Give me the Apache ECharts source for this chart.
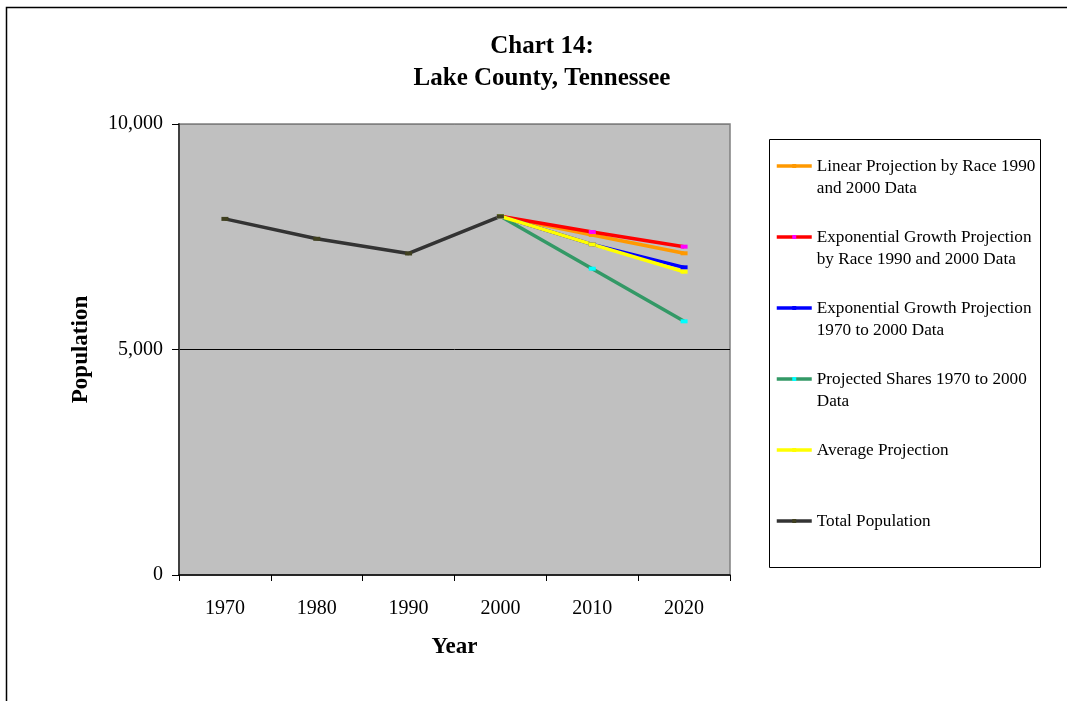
<!DOCTYPE html>
<html>
<head>
<meta charset="utf-8">
<script src="https://cdn.jsdelivr.net/npm/echarts@6/dist/echarts.min.js"></script>
<style>
  html, body { margin: 0; padding: 0; background: #fff; }
  #chart { width: 1067px; height: 701px; }
</style>
</head>
<body>
<div id="chart"></div>
<script>
// categories and values
const years = ['1970', '1980', '1990', '2000', '2010', '2020']
const totalPopulation = [7896, 7455, 7129, 7954, null, null]
const linearByRace = [null, null, null, 7954, 7540, 7133]
const expByRace = [null, null, null, 7954, 7605, 7280]
const exp1970to2000 = [null, null, null, 7954, 7332, 6822]
const projectedShares = [null, null, null, 7954, 6792, 5625]
const averageProjection = [null, null, null, 7954, 7330, 6725]
const yTicks = [0, 5000, 10000]

const serif = 'Liberation Serif'

// one line series per projection
function lineSeries(name, data, color, markColor) {
    return {
        name: name,
        type: 'line',
        data: data,
        connectNulls: false,
        symbol: 'rect',
        symbolSize: [7, 4],
        showSymbol: true,
        itemStyle: { color: markColor, borderWidth: 0 },
        lineStyle: { color: color, width: 3.5 },
        color: color,
        animation: false
    }
}

const names = {
    lin: 'Linear Projection by Race 1990\nand 2000 Data',
    expR: 'Exponential Growth Projection\nby Race 1990 and 2000 Data',
    exp: 'Exponential Growth Projection\n1970 to 2000 Data',
    sh: 'Projected Shares 1970 to 2000\nData',
    avg: 'Average Projection',
    tot: 'Total Population'
}

const mycharts = echarts.init(document.getElementById('chart'))
mycharts.setOption({
    backgroundColor: '#ffffff',
    animation: false,
    title: {
        text: 'Chart 14:\nLake County, Tennessee',
        left: 542,
        top: 31,
        padding: 0,
        textAlign: 'center',
        textStyle: {
            fontFamily: serif,
            fontWeight: 'bold',
            fontSize: 25,
            lineHeight: 32,
            color: '#000'
        }
    },
    graphic: [
        {
            type: 'rect',
            silent: true,
            shape: { x: 6.5, y: 7.5, width: 1200, height: 800 },
            style: { fill: 'none', stroke: '#000', lineWidth: 1.5 }
        },
        {
            type: 'rect',
            silent: true,
            shape: { x: 769.5, y: 139.5, width: 271, height: 428 },
            style: { fill: 'none', stroke: '#000', lineWidth: 1 }
        }
    ],
    legend: {
        orient: 'vertical',
        left: 775,
        top: 133,
        padding: 0,
        itemGap: 5,
        itemWidth: 35,
        itemHeight: 5,
        selectedMode: false,
        lineStyle: { width: 3.5 },
        // blank lines keep the icon level with the first line of text
        formatter: name => name.indexOf('\n') >= 0 ? ' \n' + name : ' \n' + name + '\n ',
        textStyle: {
            fontFamily: serif,
            fontSize: 17.2,
            lineHeight: 22,
            color: '#000'
        },
        data: [names.lin, names.expR, names.exp, names.sh, names.avg, names.tot]
    },
    grid: {
        left: 179,
        right: 337,
        top: 124,
        bottom: 126,
        show: true,
        backgroundColor: '#c0c0c0',
        borderColor: '#808080',
        borderWidth: 1.5
    },
    xAxis: {
        type: 'category',
        data: years,
        boundaryGap: true,
        name: 'Year',
        nameLocation: 'middle',
        nameGap: 61,
        nameTextStyle: { fontFamily: serif, fontWeight: 'bold', fontSize: 23, color: '#000' },
        axisLine: { show: true, lineStyle: { color: '#000', width: 1.5 } },
        axisTick: { show: true, length: 6, lineStyle: { color: '#000' } },
        axisLabel: { margin: 24, fontFamily: serif, fontSize: 20, color: '#000' },
        splitLine: { show: false }
    },
    yAxis: {
        type: 'value',
        min: yTicks[0],
        max: yTicks[yTicks.length - 1],
        interval: yTicks[1] - yTicks[0],
        name: 'Population',
        nameLocation: 'middle',
        nameRotate: 90,
        nameGap: 86,
        nameTextStyle: { fontFamily: serif, fontWeight: 'bold', fontSize: 23, color: '#000' },
        axisLine: { show: true, lineStyle: { color: '#404040', width: 2 } },
        axisTick: { show: true, length: 7, lineStyle: { color: '#000' } },
        axisLabel: {
            margin: 16,
            fontFamily: serif,
            fontSize: 20,
            color: '#000',
            formatter: v => v.toLocaleString('en-US')
        },
        splitLine: { show: true, lineStyle: { color: ['transparent', '#000', '#808080'], width: 1 } }
    },
    series: [
        lineSeries(names.lin, linearByRace, '#ff9900', '#ff9900'),
        lineSeries(names.expR, expByRace, '#ff0000', '#ff00ff'),
        lineSeries(names.exp, exp1970to2000, '#0000ff', '#0000ff'),
        lineSeries(names.sh, projectedShares, '#339966', '#00ffff'),
        lineSeries(names.avg, averageProjection, '#ffff00', '#ffff00'),
        lineSeries(names.tot, totalPopulation, '#333333', '#404020')
    ]
})
</script>
</body>
</html>
